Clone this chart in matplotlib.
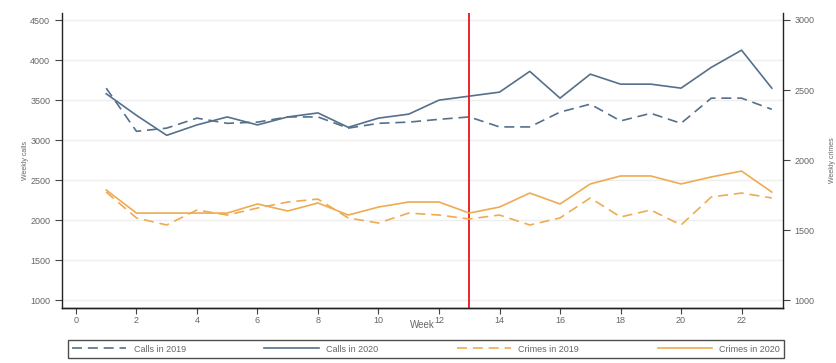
import matplotlib
matplotlib.use("Agg")
import matplotlib.pyplot as plt

plt.rcParams['font.family'] = ['Liberation Sans', 'DejaVu Sans']

weeks = list(range(1, 24))
calls_2019 = [3650, 3110, 3150, 3275, 3210, 3225, 3290, 3290, 3150, 3210, 3225, 3260,
              3290, 3165, 3165, 3350, 3450, 3240, 3335, 3210, 3525, 3525, 3385]
calls_2020 = [3580, 3310, 3060, 3190, 3290, 3190, 3290, 3340, 3160, 3275, 3325, 3500,
              3550, 3600, 3860, 3525, 3825, 3700, 3700, 3650, 3910, 4125, 3650]
crimes_2019 = [1771, 1586, 1536, 1643, 1607, 1657, 1700, 1721, 1586, 1550, 1621, 1607,
               1579, 1607, 1536, 1586, 1729, 1593, 1643, 1536, 1736, 1764, 1729]
crimes_2020 = [1786, 1621, 1621, 1621, 1621, 1686, 1636, 1693, 1607, 1664, 1700, 1700,
               1621, 1664, 1764, 1686, 1829, 1886, 1886, 1829, 1879, 1921, 1771]
x_ticks = list(range(0, 23, 2))
calls_ticks = [1000, 1500, 2000, 2500, 3000, 3500, 4000, 4500]
crimes_ticks = [1000, 1500, 2000, 2500, 3000]
lockdown_week = 13

calls_color = "#55708c"
crimes_color = "#eeab52"
tick_color = "#666666"

fig = plt.figure(figsize=(8.36, 3.63), dpi=100)
ax = fig.add_axes([0.0742, 0.1515, 0.8624, 0.8127])
ax2 = ax.twinx()

l1, = ax.plot(weeks, calls_2019, color=calls_color, lw=1.2, ls=(0, (6, 3.5)), label="Calls in 2019")
l2, = ax.plot(weeks, calls_2020, color=calls_color, lw=1.2, label="Calls in 2020")
l3, = ax2.plot(weeks, crimes_2019, color=crimes_color, lw=1.2, ls=(0, (6, 3.5)), label="Crimes in 2019")
l4, = ax2.plot(weeks, crimes_2020, color=crimes_color, lw=1.2, label="Crimes in 2020")
ax.axvline(lockdown_week, color="#e8141c", lw=1.3, zorder=5)

ax.set_xlim(-0.46, 23.37)
ax.set_ylim(900, 4590)
ax2.set_ylim(943, 3050)
ax.set_xticks(x_ticks)
ax.set_yticks(calls_ticks)
ax2.set_yticks(crimes_ticks)
ax.grid(axis="y", color="#eeeeee", lw=1)
ax.set_axisbelow(True)

for a in (ax, ax2):
    a.spines["top"].set_visible(False)
    for s in a.spines.values():
        s.set_linewidth(1.0)
        s.set_color("#222222")
    a.tick_params(labelsize=6.5, labelcolor=tick_color, color="#444444", length=5, width=0.8)
ax.tick_params(axis="x", length=4, pad=1.5)
ax2.spines["left"].set_visible(False)
ax.spines["right"].set_visible(False)

ax.set_xlabel("Week", fontsize=7, color=tick_color, labelpad=-3)
ax.set_ylabel("Weekly calls", fontsize=5, color=tick_color, labelpad=1)
ax2.set_ylabel("Weekly crimes", fontsize=5, color=tick_color, labelpad=10)

leg = fig.legend(handles=[l1, l2, l3, l4], loc="upper left", ncol=4,
                 bbox_to_anchor=(0.081, 0.0, 0.857, 0.063), mode="expand",
                 fontsize=6.5, frameon=True, fancybox=False, handlelength=6,
                 borderaxespad=0, columnspacing=1.0, borderpad=0.5)
leg.get_frame().set_edgecolor("#222222")
leg.get_frame().set_linewidth(1.0)
for t in leg.get_texts():
    t.set_color(tick_color)

fig.savefig("out.png", dpi=100)
